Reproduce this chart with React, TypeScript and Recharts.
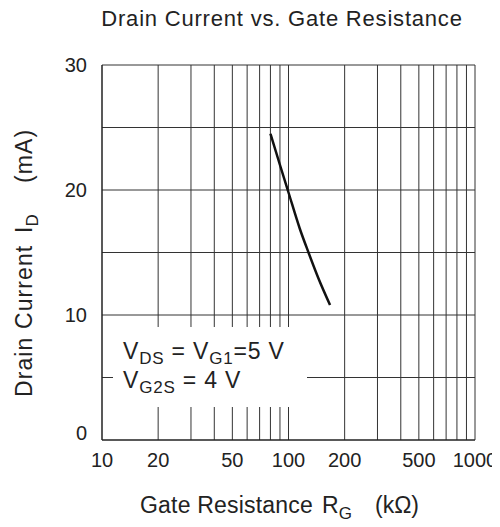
import { LineChart, Line, XAxis, YAxis, ReferenceLine, Label } from 'recharts';

const resistance = [80, 90, 100, 115, 128, 145, 167];
const current = [24.5, 22.0, 19.8, 16.9, 15.0, 12.9, 10.8];
const xTicks = [10, 20, 50, 100, 200, 500, 1000];
const yTicks = [0, 10, 20, 30];
const xGrid = [20, 30, 40, 50, 60, 70, 80, 90, 100, 200, 300, 400, 500, 600, 700, 800, 900, 1000];
const yGrid = [5, 10, 15, 20, 25, 30];

const data = resistance.map((r, i) => ({ r, id: current[i] }));
const font = 'Liberation Sans, Arial, sans-serif';
const ink = '#222';

const YTick = (props: any) => {
  const { x, y, payload } = props;
  const dy = payload.value === 0 ? 0 : 7;
  return (
    <text x={x} y={y + dy} textAnchor="end" fontSize={20} fill={ink} fontFamily={font}>
      {payload.value}
    </text>
  );
};

const XTick = (props: any) => {
  const { x, payload } = props;
  return (
    <text x={x} y={467} textAnchor="middle" fontSize={20} fill={ink} fontFamily={font}>
      {payload.value}
    </text>
  );
};

export default function App() {
  return (
    <div style={{ position: 'relative', width: 500, height: 527, margin: -8, background: '#fff', fontFamily: font }}>
      <div
        style={{
          position: 'absolute',
          left: 0,
          width: 564,
          top: 6,
          textAlign: 'center',
          fontSize: 22,
          letterSpacing: 0.8,
          color: ink,
          whiteSpace: 'nowrap',
        }}
      >
        Drain Current vs. Gate Resistance
      </div>
      <LineChart width={500} height={527} data={data} margin={{ top: 65, right: 25, left: 0, bottom: 0 }}>
        {xGrid.map(v => (
          <ReferenceLine key={'x' + v} x={v} stroke="#333" strokeWidth={1} />
        ))}
        {yGrid.map(v => (
          <ReferenceLine key={'y' + v} y={v} stroke="#333" strokeWidth={1} />
        ))}
        <XAxis
          dataKey="r"
          type="number"
          scale="log"
          domain={[10, 1000]}
          ticks={xTicks}
          allowDataOverflow
          height={87}
          tickLine={false}
          axisLine={{ stroke: ink, strokeWidth: 1.5 }}
          tick={<XTick />}
        >
          <Label
            content={() => (
              <text y={513} fontSize={23} fill={ink} fontFamily={font}>
                <tspan x={140} letterSpacing={0.2}>Gate Resistance</tspan>
                <tspan x={322}>R</tspan>
                <tspan fontSize={17} dy={6}>G</tspan>
                <tspan x={375} dy={-6}>(kΩ)</tspan>
              </text>
            )}
          />
        </XAxis>
        <YAxis
          type="number"
          domain={[0, 30]}
          ticks={yTicks}
          width={102}
          tickLine={false}
          axisLine={{ stroke: ink, strokeWidth: 1.5 }}
          tick={<YTick />}
          tickMargin={9}
        >
          <Label
            content={() => (
              <text y={0} transform="translate(32,0) rotate(-90)" fontSize={23} fill={ink} fontFamily={font}>
                <tspan x={-397} letterSpacing={1.1}>Drain Current</tspan>
                <tspan x={-233}>I</tspan>
                <tspan fontSize={17} dy={6}>D</tspan>
                <tspan x={-183} dy={-6} letterSpacing={1.1}>(mA)</tspan>
              </text>
            )}
          />
        </YAxis>
        <Line dataKey="id" type="monotone" stroke="#111" strokeWidth={2.5} dot={false} isAnimationActive={false} />
      </LineChart>
      <svg style={{ position: 'absolute', left: 0, top: 0 }} width={500} height={527}>
        <rect x={113} y={327} width={194} height={80} fill="#fff" />
        <text x={123} y={359} fontSize={23} fill={ink} fontFamily={font} letterSpacing={0.8}>
          V<tspan fontSize={17} dy={5}>DS</tspan>
          <tspan dy={-5}>{' = V'}</tspan>
          <tspan fontSize={17} dy={5}>G1</tspan>
          <tspan dy={-5}>=5 V</tspan>
        </text>
        <text x={123} y={388} fontSize={23} fill={ink} fontFamily={font} letterSpacing={0.8}>
          V<tspan fontSize={17} dy={5}>G2S</tspan>
          <tspan dy={-5}>{' = 4 V'}</tspan>
        </text>
      </svg>
    </div>
  );
}
